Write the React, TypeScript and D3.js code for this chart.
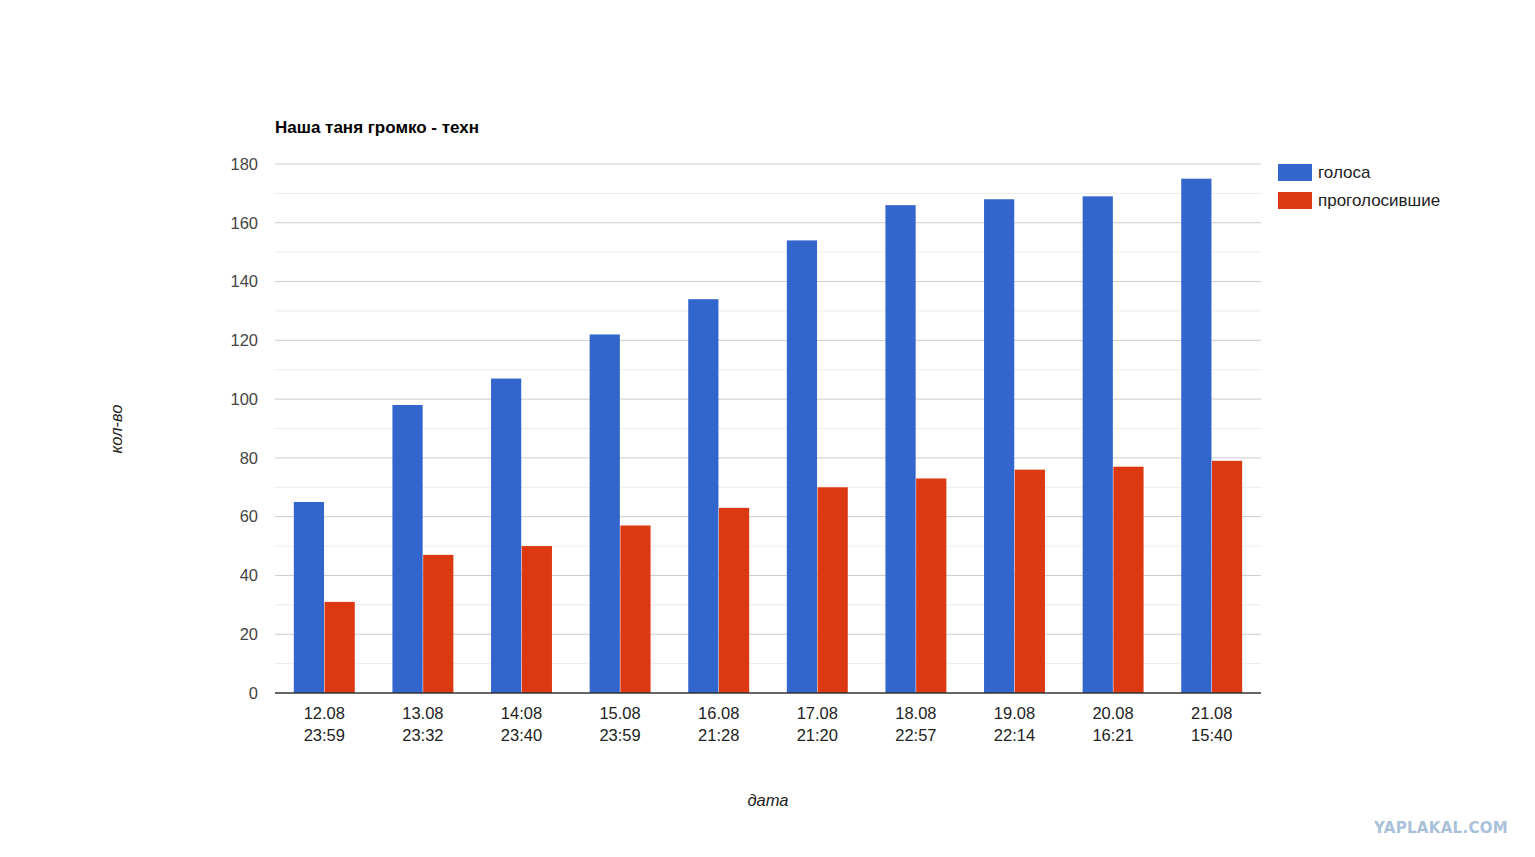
import React from "react";
import * as d3 from "d3";

const categories = [
  ["12.08", "23:59"],
  ["13.08", "23:32"],
  ["14:08", "23:40"],
  ["15.08", "23:59"],
  ["16.08", "21:28"],
  ["17.08", "21:20"],
  ["18.08", "22:57"],
  ["19.08", "22:14"],
  ["20.08", "16:21"],
  ["21.08", "15:40"],
];
const golosa = [65, 98, 107, 122, 134, 154, 166, 168, 169, 175];
const progolosivshie = [31, 47, 50, 57, 63, 70, 73, 76, 77, 79];
const seriesNames = ["голоса", "проголосившие"];
const colors = ["#3366cc", "#dc3912"];
const yTicks = [0, 20, 40, 60, 80, 100, 120, 140, 160, 180];
const minorTicks = [10, 30, 50, 70, 90, 110, 130, 150, 170];

const W = 1535;
const H = 857;
const left = 275;
const right = 1261;
const top = 164;
const bottom = 693;
const font = "Arial, 'Liberation Sans', sans-serif";

export default function App() {
  const x = d3
    .scaleBand<number>()
    .domain(d3.range(categories.length))
    .range([left, right])
    .paddingInner(0.382)
    .paddingOuter(0.191);
  const y = d3.scaleLinear().domain([0, 180]).range([bottom, top]);
  const inner = d3
    .scaleBand<number>()
    .domain([0, 1])
    .range([0, x.bandwidth()])
    .paddingInner(0.016);
  const data = [golosa, progolosivshie];

  return (
    <div style={{ position: "absolute", left: 0, top: 0 }}>
      <svg width={W} height={H} style={{ display: "block", background: "#fff" }}>
        <text x={275} y={133} fontFamily={font} fontSize={17} fontWeight="bold" fill="#000">
          Наша таня громко - техн
        </text>
        {minorTicks.map((t) => (
          <line key={"m" + t} x1={left} x2={right} y1={y(t)} y2={y(t)} stroke="#ebebeb" strokeWidth={1} />
        ))}
        {yTicks.map((t) => (
          <g key={"t" + t}>
            {t !== 0 && (
              <line x1={left} x2={right} y1={y(t)} y2={y(t)} stroke="#cccccc" strokeWidth={1} />
            )}
            <text
              x={258}
              y={y(t)}
              dy="0.35em"
              textAnchor="end"
              fontFamily={font}
              fontSize={16.5}
              fill="#444"
            >
              {t}
            </text>
          </g>
        ))}
        {data.map((series, si) =>
          series.map((v, i) => (
            <rect
              key={si + "-" + i}
              x={(x(i) as number) + (inner(si) as number)}
              y={y(v)}
              width={inner.bandwidth()}
              height={y(0) - y(v)}
              fill={colors[si]}
            />
          ))
        )}
        <line x1={left} x2={right} y1={bottom} y2={bottom} stroke="#333" strokeWidth={1.5} />
        {categories.map((c, i) => {
          const cx = (x(i) as number) + x.bandwidth() / 2;
          return (
            <text key={"c" + i} textAnchor="middle" fontFamily={font} fontSize={16.5} fill="#222">
              <tspan x={cx} y={719}>{c[0]}</tspan>
              <tspan x={cx} y={741}>{c[1]}</tspan>
            </text>
          );
        })}
        <text
          x={(left + right) / 2}
          y={806}
          textAnchor="middle"
          fontFamily={font}
          fontSize={16.5}
          fontStyle="italic"
          fill="#222"
        >
          дата
        </text>
        <text
          transform={`translate(122,429) rotate(-90)`}
          textAnchor="middle"
          fontFamily={font}
          fontSize={16.5}
          fontStyle="italic"
          fill="#222"
        >
          кол-во
        </text>
        {seriesNames.map((n, i) => (
          <g key={"l" + i} transform={`translate(1278,${164 + i * 28})`}>
            <rect x={0} y={0} width={34} height={17} fill={colors[i]} />
            <text x={40} y={8.5} dy="0.35em" fontFamily={font} fontSize={17} fill="#222">
              {n}
            </text>
          </g>
        ))}
        <text
          x={1508}
          y={833}
          textAnchor="end"
          fontFamily="'DejaVu Sans', sans-serif"
          fontSize={15}
          fontWeight="bold"
          fill="#a9c1d9"
          letterSpacing={0.3}
        >
          YAPLAKAL.COM
        </text>
      </svg>
    </div>
  );
}
